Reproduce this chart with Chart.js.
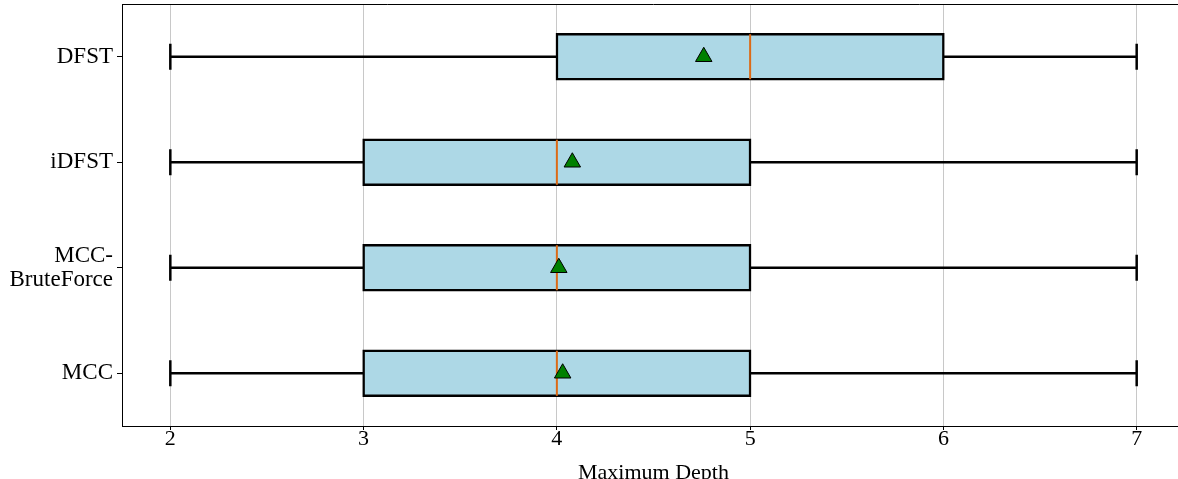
<!DOCTYPE html>
<html>
<head>
<meta charset="utf-8">
<script src="https://cdn.jsdelivr.net/npm/chart.js@4.4.1/dist/chart.umd.min.js"></script>
<style>
  html, body { margin: 0; padding: 0; background: #fff; overflow: hidden; }
  #wrap { width: 1186px; height: 479px; }
</style>
</head>
<body>
<div id="wrap"><canvas id="boxChart"></canvas></div>
<script>
// top to bottom, as in the picture
const categories = ['DFST', 'iDFST', 'MCC-BruteForce', 'MCC'];
const mins    = [2, 2, 2, 2];
const q1s     = [4, 3, 3, 3];
const medians = [5, 4, 4, 4];
const q3s     = [6, 5, 5, 5];
const maxs    = [7, 7, 7, 7];
const means   = [4.76, 4.08, 4.01, 4.03];
const xTicks  = [2, 3, 4, 5, 6, 7];

// y position of each category (top one gets the highest value)
const pos = categories.map((c, i) => categories.length - i);

const serif = '"Liberation Serif", "Times New Roman", serif';
Chart.defaults.font.family = serif;
Chart.defaults.color = '#000';

// whiskers: min -> max, the box is drawn on top of it
const whiskerSets = categories.map((c, i) => ({
  type: 'line',
  data: [{ x: mins[i], y: pos[i] }, { x: maxs[i], y: pos[i] }],
  borderColor: '#000',
  borderWidth: 2.5,
  pointRadius: 0,
  order: 5
}));

const frame = {
  id: 'frame',
  afterDraw(chart) {
    const { ctx, chartArea: a } = chart;
    ctx.save();
    ctx.strokeStyle = '#000';
    ctx.lineWidth = 1;
    ctx.beginPath();
    ctx.moveTo(a.left, a.top + 0.5);
    ctx.lineTo(a.right, a.top + 0.5);
    ctx.stroke();
    ctx.restore();
  }
};

new Chart(document.getElementById('boxChart'), {
  type: 'bar',
  data: {
    datasets: [
      ...whiskerSets,
      {
        type: 'bar',
        data: categories.map((c, i) => ({ x: [q1s[i], q3s[i]], y: pos[i] })),
        backgroundColor: '#add8e6',
        borderColor: '#000',
        borderWidth: 2.5,
        borderSkipped: false,
        inflateAmount: 1.25,
        barThickness: 45,
        order: 4
      },
      {
        type: 'scatter',
        data: categories.map((c, i) => ({ x: mins[i], y: pos[i] }))
          .concat(categories.map((c, i) => ({ x: maxs[i], y: pos[i] }))),
        pointStyle: 'line',
        rotation: 90,
        pointRadius: 13,
        borderColor: '#000',
        borderWidth: 2.5,
        order: 3
      },
      {
        type: 'scatter',
        data: categories.map((c, i) => ({ x: medians[i], y: pos[i] })),
        pointStyle: 'line',
        rotation: 90,
        pointRadius: 22.5,
        borderColor: '#dc6a16',
        borderWidth: 2,
        order: 2
      },
      {
        type: 'scatter',
        data: categories.map((c, i) => ({ x: means[i], y: pos[i] })),
        pointStyle: 'triangle',
        pointRadius: 9.5,
        backgroundColor: '#008000',
        borderColor: '#000',
        borderWidth: 1,
        order: 1
      }
    ]
  },
  options: {
    indexAxis: 'y',
    responsive: true,
    maintainAspectRatio: false,
    animation: false,
    layout: { autoPadding: false, padding: { top: 4, right: 1, left: 0, bottom: 0 } },
    plugins: {
      legend: { display: false },
      tooltip: { enabled: false }
    },
    scales: {
      x: {
        type: 'linear',
        min: 1.75,
        max: 7.25,
        afterBuildTicks: s => { s.ticks = xTicks.map(v => ({ value: v })); },
        afterFit: s => { s.height = 53; },
        ticks: { font: { size: 22 }, padding: -4 },
        grid: { color: '#c8c8c8', lineWidth: 1, tickLength: 4, tickColor: '#000' },
        border: { color: '#000', width: 1 },
        title: {
          display: true,
          text: 'Maximum Depth',
          font: { size: 22 },
          padding: { top: 0, bottom: -7 }
        }
      },
      y: {
        type: 'linear',
        min: 0.5,
        max: 4.5,
        offset: false,
        afterBuildTicks: s => { s.ticks = pos.map(v => ({ value: v })); },
        afterFit: s => { s.width = 122; s.paddingTop = 0; s.paddingBottom = 0; },
        ticks: {
          font: { size: 23, lineHeight: 1.05 },
          padding: 4,
          callback: v => {
            const name = categories[pos.indexOf(v)];
            return name === 'MCC-BruteForce' ? ['MCC-', 'BruteForce'] : name;
          }
        },
        grid: { offset: false, drawOnChartArea: false, tickLength: 5, tickColor: '#000' },
        border: { color: '#000', width: 1 }
      }
    }
  },
  plugins: [frame]
});
</script>
</body>
</html>
